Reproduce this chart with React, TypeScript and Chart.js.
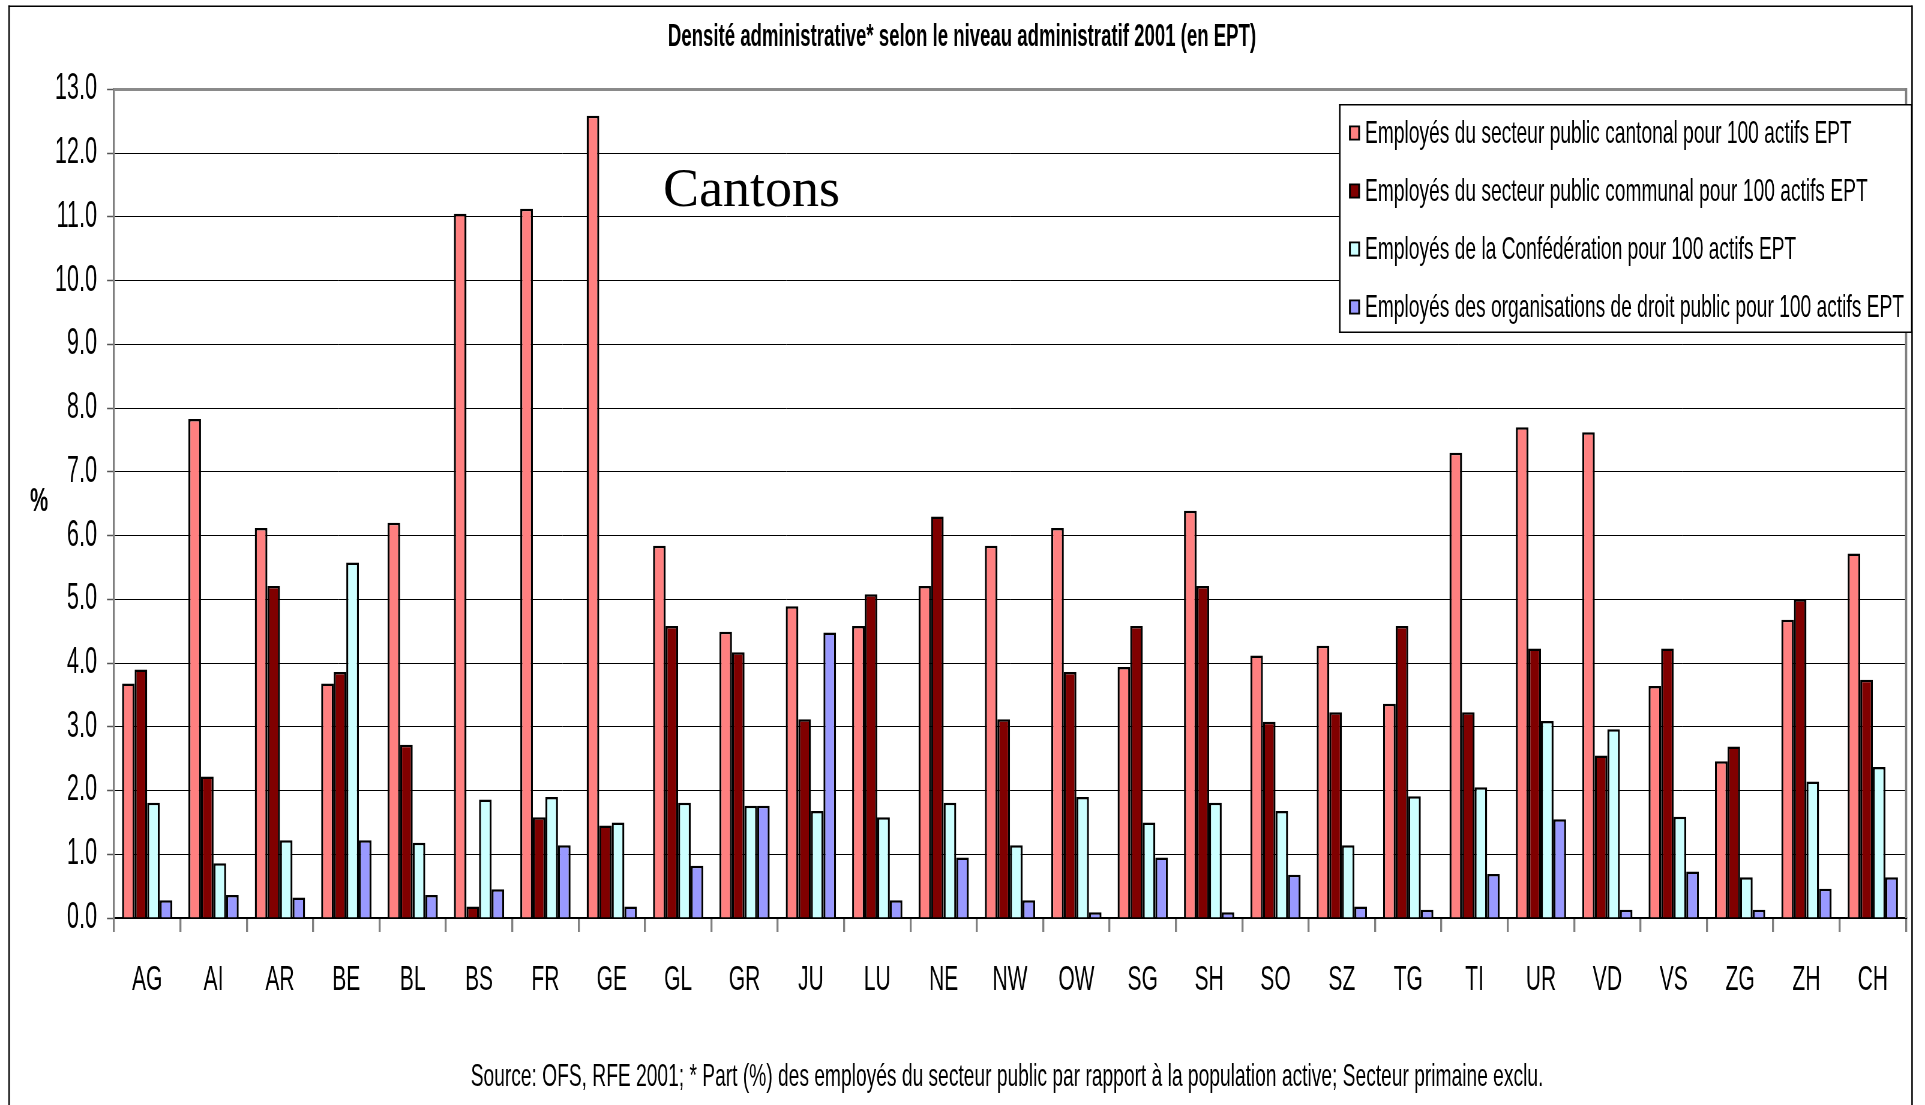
import React, { useEffect, useRef } from 'react';
import { Chart, registerables } from 'chart.js';

Chart.register(...registerables);

// ---- data ----
const cantons = ['AG', 'AI', 'AR', 'BE', 'BL', 'BS', 'FR', 'GE', 'GL', 'GR', 'JU', 'LU', 'NE', 'NW', 'OW', 'SG', 'SH', 'SO', 'SZ', 'TG', 'TI', 'UR', 'VD', 'VS', 'ZG', 'ZH', 'CH'];
const cantonal = [3.68, 7.83, 6.12, 3.68, 6.2, 11.05, 11.13, 12.59, 5.84, 4.49, 4.89, 4.58, 5.21, 5.84, 6.12, 3.94, 6.39, 4.12, 4.27, 3.36, 7.3, 7.7, 7.62, 3.64, 2.46, 4.68, 5.72];
const communal = [3.9, 2.22, 5.21, 3.86, 2.72, 0.18, 1.58, 1.45, 4.58, 4.17, 3.12, 5.08, 6.3, 3.12, 3.86, 4.58, 5.21, 3.08, 3.23, 4.58, 3.23, 4.23, 2.55, 4.23, 2.69, 5.0, 3.74];
const confederation = [1.81, 0.86, 1.22, 5.58, 1.18, 1.86, 1.9, 1.5, 1.81, 1.76, 1.68, 1.58, 1.81, 1.14, 1.9, 1.5, 1.81, 1.68, 1.14, 1.91, 2.05, 3.09, 2.96, 1.59, 0.64, 2.14, 2.37];
const droitPublic = [0.28, 0.36, 0.32, 1.22, 0.36, 0.45, 1.14, 0.18, 0.82, 1.76, 4.48, 0.28, 0.95, 0.28, 0.09, 0.95, 0.09, 0.68, 0.18, 0.13, 0.69, 1.55, 0.13, 0.73, 0.13, 0.46, 0.64];
const seriesLabels = [
  'Employés du secteur public cantonal pour 100 actifs EPT',
  'Employés du secteur public communal pour 100 actifs EPT',
  'Employés de la Confédération pour 100 actifs EPT',
  'Employés des organisations de droit public pour 100 actifs EPT',
];
const seriesColors = ['#FF8080', '#800000', '#CCFFFF', '#9999FF'];
const yMin = 0;
const yMax = 13;
const yStep = 1;
const titleText = 'Densité administrative* selon le niveau administratif 2001 (en EPT)';
const sourceText = 'Source: OFS, RFE 2001; * Part (%) des employés du secteur public par rapport à la population active; Secteur primaine exclu.';
const yAxisTitle = '%';
const noteText = 'Cantons';

// ---- layout (display px; canvas is drawn wider and squeezed horizontally) ----
const W = 1925;
const H = 1105;
const S = 0.6;
const IW = Math.round(W / S);
const SX = W / IW;
const X = (px: number) => px / SX;

const SANS = "'Liberation Sans', Arial, Helvetica, sans-serif";
const SERIF = "'Liberation Serif', 'Times New Roman', serif";

const decorPlugin = {
  id: 'decor',
  afterDraw(chart: any) {
    const ctx = chart.ctx as CanvasRenderingContext2D;
    const a = chart.chartArea;
    ctx.save();
    // right border of plot area
    ctx.fillStyle = '#808080';
    ctx.fillRect(a.right - X(1), a.top - 1.5, X(2.2), a.bottom - a.top + 1.5);

    // outer frame
    ctx.fillStyle = '#000';
    ctx.fillRect(X(8.3), 5.5, X(1.5), H);
    ctx.fillRect(X(8.3), 5.5, X(1912.5 - 8.3), 1.5);
    ctx.fillRect(X(1911.3), 5.5, X(1.5), H);

    // title
    ctx.fillStyle = '#000';
    ctx.textAlign = 'center';
    ctx.textBaseline = 'middle';
    ctx.font = `bold 31px ${SANS}`;
    ctx.fillText(titleText, X(962), 37);

    // source
    ctx.font = `32px ${SANS}`;
    ctx.fillText(sourceText, X(1007), 1077);

    // y axis title
    ctx.font = `bold 34px ${SANS}`;
    ctx.fillText(yAxisTitle, X(39), 502);

    // "Cantons" (normal proportions)
    ctx.save();
    ctx.translate(X(663), 206);
    ctx.scale(1 / SX, 1);
    ctx.textAlign = 'left';
    ctx.textBaseline = 'alphabetic';
    ctx.font = `54px ${SERIF}`;
    ctx.fillText(noteText, 0, 0);
    ctx.restore();

    // legend box
    const lx1 = X(1339), lx2 = X(1912.5), ly1 = 104, ly2 = 333;
    ctx.fillStyle = '#fff';
    ctx.fillRect(lx1, ly1, lx2 - lx1, ly2 - ly1);
    ctx.fillStyle = '#000';
    ctx.fillRect(lx1, ly1, lx2 - lx1, 1.5);
    ctx.fillRect(lx1, ly2 - 1.5, lx2 - lx1, 1.5);
    ctx.fillRect(lx1, ly1, X(1.5), ly2 - ly1);
    ctx.fillRect(lx2 - X(1.5), ly1, X(1.5), ly2 - ly1);

    const rows = [133, 191, 249, 307];
    chart.data.datasets.forEach((ds: any, i: number) => {
      const cy = rows[i];
      const sx = X(1349), sw = X(11), sh = 15;
      ctx.fillStyle = '#000';
      ctx.fillRect(sx, cy - sh / 2, sw, sh);
      ctx.fillStyle = ds.backgroundColor;
      ctx.fillRect(sx + X(1.8), cy - sh / 2 + 1.8, sw - X(3.6), sh - 3.6);
      ctx.fillStyle = '#000';
      ctx.textAlign = 'left';
      ctx.textBaseline = 'middle';
      ctx.font = `32px ${SANS}`;
      ctx.fillText(ds.label, X(1365), cy + 1);
    });
    ctx.restore();
  },
};

export default function App() {
  const ref = useRef<HTMLCanvasElement | null>(null);

  useEffect(() => {
    const canvas = ref.current;
    if (!canvas) return;
    const seriesData = [cantonal, communal, confederation, droitPublic];
    const chart = new Chart(canvas, {
      type: 'bar',
      data: {
        labels: cantons,
        datasets: seriesData.map((d, i) => ({
          label: seriesLabels[i],
          data: d,
          backgroundColor: seriesColors[i],
          borderColor: '#000',
          borderWidth: { top: 2.5, left: X(2), right: X(2), bottom: 0 },
          borderSkipped: 'bottom',
          barPercentage: 1,
          categoryPercentage: 0.757,
        })),
      },
      options: {
        responsive: false,
        maintainAspectRatio: false,
        animation: false,
        devicePixelRatio: 1,
        events: [],
        layout: {
          padding: { left: 0, top: 89.5, right: IW - X(1906), bottom: 0 },
        },
        plugins: {
          legend: { display: false },
          title: { display: false },
          tooltip: { enabled: false },
        },
        scales: {
          x: {
            offset: true,
            grid: {
              display: true,
              drawOnChartArea: false,
              drawTicks: true,
              tickLength: 14,
              color: '#808080',
              lineWidth: X(2),
              offset: true,
            },
            border: { display: true, color: '#000', width: 2 },
            ticks: {
              autoSkip: false,
              maxRotation: 0,
              minRotation: 0,
              padding: 27,
              color: '#000',
              font: { family: SANS, size: 35 },
            },
            afterFit: (scale: any) => {
              scale.height = H - 918;
            },
          },
          y: {
            min: yMin,
            max: yMax,
            grid: {
              color: (c: any) => (c.tick && c.tick.value === yMax ? '#8a8a8a' : '#000'),
              lineWidth: (c: any) => (c.tick && c.tick.value === yMax ? 3 : 1),
              drawTicks: true,
              tickLength: X(7),
              tickColor: '#555',
              tickWidth: 1.5,
            },
            border: { display: true, color: '#808080', width: X(2) },
            ticks: {
              stepSize: yStep,
              padding: X(10),
              color: '#000',
              font: { family: SANS, size: 36 },
              callback: (v: any) => Number(v).toFixed(1),
            },
            afterFit: (scale: any) => {
              scale.width = X(114);
            },
          },
        },
      },
      plugins: [decorPlugin],
    });
    return () => chart.destroy();
  }, []);

  return (
    <div style={{ position: 'absolute', left: 0, top: 0, width: W, height: H, background: '#fff' }}>
      <canvas
        ref={ref}
        width={IW}
        height={H}
        style={{ width: `${W}px`, height: `${H}px`, display: 'block' }}
      />
    </div>
  );
}
